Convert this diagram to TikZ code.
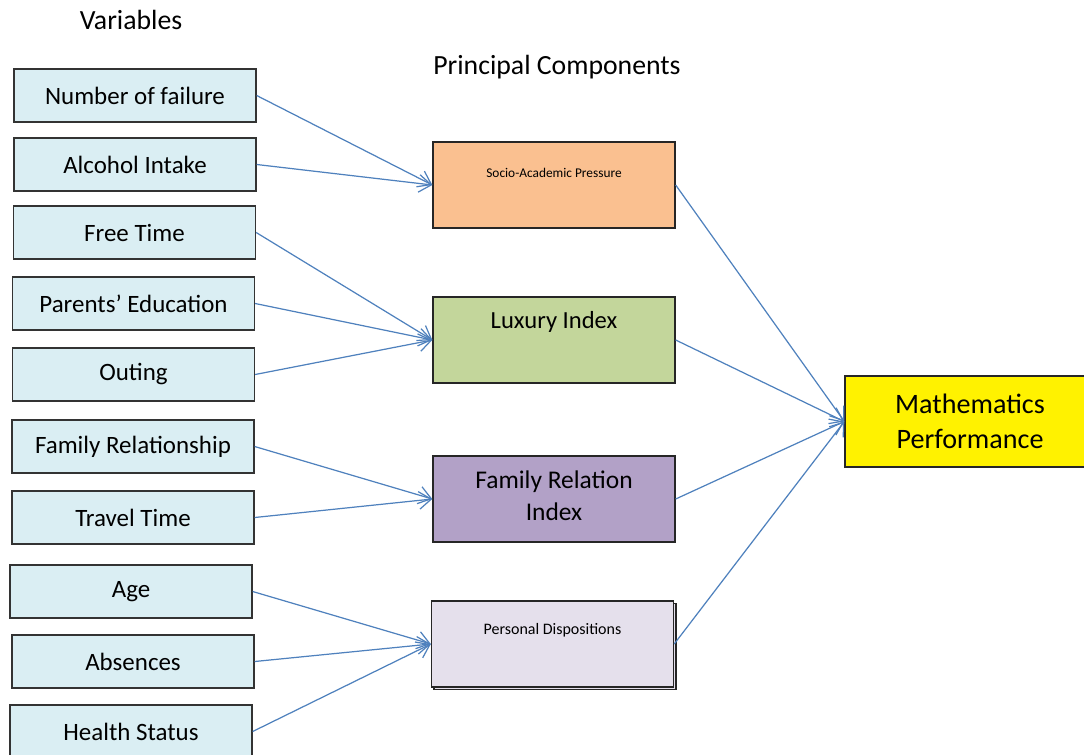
\documentclass[tikz,border=0pt]{standalone}
\usepackage{xcolor}
\usepackage{fontspec}
\setmainfont{Carlito}
\usepackage{tikz}
\usetikzlibrary{arrows.meta, shadows}

\definecolor{varfill}{HTML}{DAEEF3}
\definecolor{sociofill}{HTML}{FAC090}
\definecolor{luxfill}{HTML}{C3D69B}
\definecolor{famfill}{HTML}{B2A1C7}
\definecolor{persfill}{HTML}{E5E0EC}
\definecolor{linkblue}{HTML}{4F81BD}

\begin{document}
\begin{tikzpicture}[
    x=0.02cm, y=-0.02cm,
    varbox/.style={rectangle, draw=black!80, line width=0.8pt, fill=varfill, minimum width=4.84cm, minimum height=1.06cm, inner sep=0pt, font=\fontsize{14.2}{17}\selectfont},
    pcbox/.style={rectangle, draw=black!85, line width=0.8pt, minimum width=4.84cm, minimum height=1.72cm, inner sep=0pt, align=center},
    outbox/.style={rectangle, draw=black!85, line width=0.8pt, fill=yellow, minimum width=5cm, minimum height=1.82cm, inner sep=0pt, align=center, font=\fontsize{16}{19.8}\selectfont},
    title/.style={font=\fontsize{15.8}{19}\selectfont},
    arrow/.style={-{Straight Barb[length=7pt, width=10pt]}, line width=0.7pt, color=linkblue}
]
\clip (0,0) rectangle (1084,754);

% Titles
\node[title] (vartitle) at (131,20) {Variables};
\node[title] (pctitle) at (557,67) {Principal Components};

% Variables
\node[varbox] (failure) at (135,95.5) {Number of failure};
\node[varbox] (alcohol) at (135,164.5) {Alcohol Intake};
\node[varbox] (freetime) at (134.5,232.5) {Free Time};
\node[varbox] (parents) at (133.5,303.5) {Parents’ Education};
\node[varbox] (outing) at (133.5,374.5) {Outing};
\node[varbox] (famrel) at (133,446.5) {Family Relationship};
\node[varbox] (travel) at (133,517.5) {Travel Time};
\node[varbox] (age) at (131,591.5) {Age};
\node[varbox] (absences) at (133,661.5) {Absences};
\node[varbox] (health) at (131,731.5) {Health Status};

% Principal components
\node[pcbox, fill=sociofill, font=\fontsize{7.6}{9}\selectfont, text height=5.5pt, text depth=14pt] (socio) at (554,185) {Socio-Academic Pressure};
\node[pcbox, fill=luxfill, font=\fontsize{14}{17}\selectfont, text height=10pt, text depth=23pt] (luxury) at (554,340) {Luxury Index};
\node[pcbox, fill=famfill, font=\fontsize{14.5}{18}\selectfont, text depth=4pt] (family) at (554,499) {Family Relation\\Index};
\node[pcbox, fill=persfill, font=\fontsize{9.1}{11}\selectfont, text height=6.5pt, text depth=17pt,
      copy shadow={shadow xshift=0.05cm, shadow yshift=-0.05cm, fill=persfill, draw=black!85}] (personal) at (552.5,644) {Personal Dispositions};

% Outcome
\node[outbox] (maths) at (970,421.5) {Mathematics\\Performance};

% Arrows
\draw[arrow] (failure.east) -- (socio.west);
\draw[arrow] (alcohol.east) -- (socio.west);
\draw[arrow] (freetime.east) -- (luxury.west);
\draw[arrow] (parents.east) -- (luxury.west);
\draw[arrow] (outing.east) -- (luxury.west);
\draw[arrow] (famrel.east) -- (family.west);
\draw[arrow] (travel.east) -- (family.west);
\draw[arrow] (age.east) -- (personal.west);
\draw[arrow] (absences.east) -- (personal.west);
\draw[arrow] (health.east) -- (personal.west);
\draw[arrow] (socio.east) -- (maths.west);
\draw[arrow] (luxury.east) -- (maths.west);
\draw[arrow] (family.east) -- (maths.west);
\draw[arrow] (personal.east) -- (maths.west);

\end{tikzpicture}
\end{document}
